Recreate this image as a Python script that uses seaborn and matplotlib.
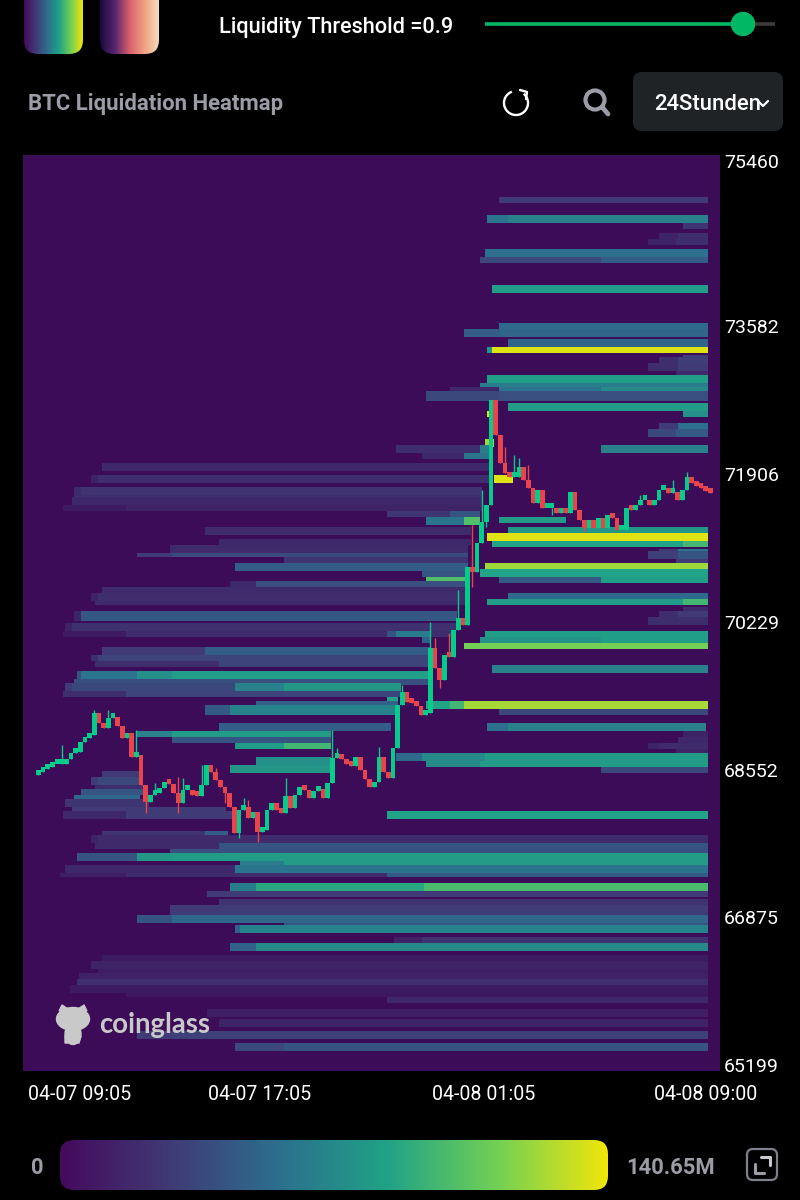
import numpy as np
import matplotlib
matplotlib.use("Agg")
import matplotlib.pyplot as plt
from matplotlib.colors import LinearSegmentedColormap
from matplotlib.patches import FancyBboxPatch, Circle, Ellipse, Arc, Polygon
from matplotlib.transforms import ScaledTranslation
import seaborn as sns

# ---------- axis data ----------
price_ticks = [75460, 73582, 71906, 70229, 68552, 66875, 65199]
time_tick_hours = [0, 8, 16, 23.92]
time_tick_labels = ["04-07 09:05", "04-07 17:05", "04-08 01:05", "04-08 09:00"]
scale_max = 140.65

# ---------- candle closes, one per 10 minutes ----------
closes = [68525, 68559, 68582, 68616, 68616, 68616, 68672, 68740, 68752, 68865, 68911, 68945,
          69194, 69081, 69024, 69138, 69149, 69047, 68911, 68967, 68695, 68718, 68377, 68184,
          68264, 68286, 68343, 68411, 68389, 68286, 68173, 68320, 68320, 68264, 68252, 68377,
          68604, 68525, 68434, 68355, 68286, 68128, 67832, 68094, 68128, 68003, 68071, 67844,
          67866, 68094, 68173, 68094, 68060, 68252, 68116, 68264, 68355, 68320, 68230, 68309,
          68332, 68230, 68400, 68684, 68718, 68672, 68616, 68593, 68695, 68548, 68445, 68355,
          68411, 68695, 68525, 68457, 68797, 69285, 69433, 69319, 69308, 69274, 69172, 69194,
          69932, 69705, 69569, 69853, 69830, 70137, 70273, 70194, 70852, 70795, 71124, 71363,
          71555, 72748, 72351, 72033, 71919, 71874, 71874, 71988, 71840, 71749, 71579, 71726,
          71522, 71522, 71522, 71465, 71522, 71465, 71704, 71499, 71386, 71295, 71386, 71295,
          71408, 71295, 71442, 71408, 71272, 71272, 71522, 71499, 71555, 71612, 71612, 71555,
          71612, 71726, 71726, 71692, 71704, 71612, 71726, 71874, 71805, 71771, 71749, 71714, 71692]
first_open = 68490
wick_high = {5: 68831, 12: 69228, 15: 69228, 20: 68752, 21: 69001, 25: 68400, 30: 68468, 31: 68457,
             35: 68604, 38: 68570, 44: 68230, 45: 68207, 53: 68457, 63: 69001, 64: 68797, 73: 68809,
             78: 69512, 84: 70227, 85: 70046, 88: 70102, 90: 70590, 93: 71328, 95: 71726, 100: 72214,
             102: 72123, 103: 72089, 105: 72009, 129: 71669, 136: 71839, 139: 71930}
wick_low = {23: 68059, 30: 68059, 40: 68173, 43: 67776, 47: 67730, 86: 69478, 93: 70625, 96: 71306,
            110: 71442, 117: 71249}

# ---------- liquidation bands: (price top, price bottom, start hour, end hour, share of scale) ----------
upper_right = [
    (75051, 74972, 16.5, 24, .2), (74858, 74767, 16.11, 24, .42), (74858, 74767, 16.86, 24, .47),
    (74767, 74699, 23.07, 24, .17), (74654, 74574, 22.29, 24, .1), (74654, 74574, 22.96, 24, .15),
    (74574, 74506, 21.89, 24, .1), (74574, 74506, 22.82, 24, .15), (74461, 74370, 16.04, 24, .4),
    (74370, 74302, 15.89, 24, .25), (74370, 74302, 20.21, 24, .33), (74052, 73961, 16.25, 24, .58),
    (73632, 73564, 16.5, 24, .38), (73564, 73473, 15.25, 24, .33), (73564, 73473, 16.5, 24, .36),
    (73439, 73360, 16.86, 24, .36), (73360, 73280, 16.11, 24, .55), (73360, 73280, 16.25, 24, .97),
    (73258, 73235, 23.07, 24, .2), (73235, 73167, 22.29, 24, .15), (73235, 73167, 22.96, 24, .22),
    (73167, 73076, 21.89, 24, .15), (73167, 73076, 22.96, 24, .2), (73076, 73008, 22.82, 24, .12),
    (73031, 72940, 16.11, 24, .58), (72940, 72872, 15.89, 24, .45), (72895, 72815, 14.75, 16.5, .12),
    (72895, 72815, 16.5, 24, .42), (72895, 72815, 20.21, 24, .5), (72838, 72747, 13.93, 16.5, .25),
    (72838, 72747, 16.5, 24, .28), (72702, 72611, 16.86, 24, .57), (72611, 72543, 23.07, 24, .52),
    (72633, 72543, 16.11, 16.32, .97), (72497, 72406, 22.25, 24, .2), (72497, 72406, 22.96, 24, .4),
    (72429, 72338, 21.89, 24, .25), (72429, 72338, 22.82, 24, .32), (72236, 72145, 20.21, 24, .47),
    (72304, 72214, 16.04, 16.32, .87), (71896, 71805, 16.39, 17, .97),
]
left_upper = [
    (72236, 72145, 12.82, 15.89, .15), (72236, 72145, 15.89, 16.29, .45),
    (72145, 72077, 13.79, 15.25, .12), (72145, 72077, 15.25, 16.29, .42),
    (72032, 71941, 2.36, 16.29, .12), (71896, 71805, 1.96, 16.29, .1), (71896, 71805, 2.21, 16.29, .15),
    (71771, 71680, 1.39, 15.93, .13), (71771, 71680, 1.61, 15.93, .17), (71680, 71612, 1.39, 15.93, .15),
    (71635, 71544, 1.25, 15.93, .12), (71544, 71487, .93, 15.93, .07), (71544, 71487, 3.21, 15.93, .1),
    (71476, 71408, 12.54, 14.75, .18), (71476, 71408, 14.75, 15.82, .3),
    (71408, 71328, 13.93, 15.25, .42), (71408, 71328, 15.25, 15.82, .72), (71430, 71340, 16.5, 18.96, .57),
    (71306, 71215, 6.07, 15.5, .13), (71169, 71101, 6.57, 15.5, .12), (71101, 71010, 4.82, 15.43, .13),
    (71010, 70954, 3.61, 15.43, .2), (71010, 70954, 4.89, 15.43, .26), (70954, 70874, 8.89, 15.43, .17),
    (70897, 70806, 7.14, 15.43, .33), (70806, 70738, 13.79, 15.43, .3), (70738, 70670, 13.93, 15.39, .72),
    (70693, 70613, 6.93, 15.32, .12), (70693, 70613, 7.89, 15.32, .28), (70625, 70545, 2.36, 15.32, .13),
    (70556, 70477, 1.96, 15.32, .1), (70556, 70477, 2.21, 15.32, .15), (70477, 70409, 2.14, 15.32, .13),
]
left_middle = [
    (70341, 70250, 1.39, 15.04, .1), (70341, 70250, 1.61, 15.04, .31), (70216, 70114, 1.04, 15.04, .1),
    (70216, 70114, 1.25, 15.04, .16), (70136, 70057, .93, 14.96, .07), (70136, 70057, 3.21, 14.96, .14),
    (70114, 70057, 12.54, 14.14, .3), (70114, 70057, 12.82, 14.14, .45), (70057, 69989, 13.79, 14.14, .35),
    (69944, 69853, 2.36, 14.07, .2), (69944, 69853, 6.07, 14.07, .33), (69853, 69785, 1.96, 14.07, .15),
    (69853, 69785, 2.21, 14.07, .24), (69785, 69717, 2.14, 14.07, .15), (69785, 69717, 6.57, 14.07, .24),
    (69671, 69580, 1.46, 14, .3), (69671, 69580, 1.61, 14, .42), (69671, 69580, 3.61, 14, .52),
    (69671, 69580, 4.86, 14, .58), (69580, 69512, 1.39, 14, .28), (69535, 69444, 1.04, 13, .2),
    (69535, 69444, 1.25, 13, .25), (69535, 69444, 7.14, 13, .47), (69535, 69444, 8.89, 13, .55),
    (69444, 69376, .93, 13, .15), (69444, 69376, 3.21, 13, .24), (69387, 69319, 12.54, 12.96, .6),
    (69342, 69251, 7.89, 12.93, .35), (69274, 69183, 6.07, 12.86, .32), (69274, 69183, 6.93, 12.86, .48),
    (69070, 68979, 6.57, 12.71, .33), (69001, 68922, 3.61, 10.5, .47), (69001, 68922, 4.86, 10.5, .57),
    (68922, 68865, 4.89, 10.5, .3), (68865, 68786, 7.14, 10.5, .57), (68865, 68786, 8.89, 10.5, .68),
    (68684, 68593, 7.89, 10.5, .52), (68604, 68513, 6.93, 10.5, .55), (68536, 68468, 2.36, 3.71, .2),
    (68468, 68377, 1.96, 3.71, .2), (68468, 68377, 2.21, 3.71, .25), (68377, 68320, 2.14, 3.89, .15),
    (68343, 68264, 1.61, 3.89, .3), (68275, 68184, 1.39, 3.71, .37), (68207, 68128, 1.04, 4.07, .18),
    (68128, 68059, 1.25, 6.75, .2), (68071, 67991, .93, 7, .12), (68071, 67991, 3.21, 7, .2),
    (67866, 67776, 2.36, 6.86, .17), (67866, 67776, 6.07, 6.86, .33),
]
right_middle = [
    (68071, 67980, 12.54, 24, .6), (71306, 71215, 16.86, 24, .55), (71237, 71147, 16.11, 24, .97),
    (71147, 71079, 16.25, 24, .6), (71147, 71079, 23.07, 24, .68), (71067, 71010, 22.25, 24, .2),
    (71067, 71010, 22.96, 24, .42), (71022, 70942, 21.89, 24, .22), (71022, 70942, 22.96, 24, .3),
    (70942, 70874, 22.82, 24, .2), (70897, 70806, 16.04, 24, .87), (70829, 70738, 15.89, 24, .6),
    (70738, 70681, 16.5, 24, .32), (70738, 70681, 20.21, 24, .58), (70556, 70477, 16.86, 24, .38),
    (70488, 70409, 16.11, 24, .57), (70488, 70409, 23.07, 24, .68), (70398, 70341, 23.07, 24, .13),
    (70341, 70250, 22.25, 24, .15), (70341, 70250, 22.96, 24, .2), (70273, 70193, 21.89, 24, .15),
    (70136, 70057, 16.04, 24, .58), (70068, 69989, 15.89, 24, .54), (70068, 69989, 20.21, 24, .58),
    (70000, 69921, 15.25, 24, .8), (69739, 69648, 16.25, 24, .47), (69342, 69251, 13.96, 24, .6),
    (69342, 69251, 14.75, 24, .68), (69342, 69251, 15.25, 24, .88), (69251, 69183, 16.5, 24, .25),
    (69070, 68979, 16.11, 23.93, .4), (69070, 68979, 16.86, 23.93, .47), (69001, 68922, 23.07, 24, .1),
    (68922, 68865, 22.96, 24, .12), (68865, 68786, 21.89, 24, .1), (68865, 68786, 22.25, 24, .13),
    (68786, 68740, 22.82, 24, .1), (68740, 68650, 12.82, 24, .38), (68740, 68650, 13.79, 24, .5),
    (68740, 68650, 16.04, 24, .57), (68650, 68582, 13.93, 24, .5), (68650, 68582, 15.89, 24, .57),
    (68582, 68513, 20.21, 24, .25),
]
lower_full = [
    (67810, 67719, 1.96, 24, .1), (67810, 67719, 2.21, 24, .13), (67719, 67651, 2.14, 24, .13),
    (67719, 67651, 6.57, 24, .3), (67651, 67583, 4.82, 24, .28), (67605, 67515, 1.43, 24, .3),
    (67605, 67515, 3.61, 24, .55), (67605, 67515, 4.86, 24, .57), (67515, 67447, 7.29, 24, .45),
    (67515, 67447, 8.89, 24, .57), (67469, 67378, 1.04, 24, .12), (67469, 67378, 7.14, 24, .42),
    (67378, 67322, .89, 24, .08), (67378, 67322, 3.21, 24, .13), (67378, 67322, 12.5, 24, .32),
    (67265, 67185, 6.93, 24, .45), (67265, 67185, 7.89, 24, .62), (67265, 67185, 13.89, 24, .7),
    (67185, 67117, 6.11, 24, .2), (67072, 67004, 6.57, 24, .17), (67004, 66913, 4.82, 24, .2),
    (66913, 66822, 3.61, 24, .3), (66913, 66822, 4.89, 24, .37), (66822, 66766, 8.89, 24, .3),
    (66777, 66697, 7.14, 24, .35), (66777, 66697, 7.29, 24, .48), (66652, 66561, 12.79, 24, .1),
    (66652, 66561, 13.79, 24, .17), (66584, 66493, 6.93, 24, .35), (66584, 66493, 7.89, 24, .5),
    (66448, 66380, 2.39, 24, .07), (66380, 66300, 1.96, 24, .1), (66300, 66243, 2.21, 24, .08),
    (66243, 66164, 1.57, 24, .09), (66164, 66096, 1.43, 24, .15), (66096, 66016, 1.21, 24, .07),
    (66016, 65971, 3.21, 24, .05), (65960, 65892, 12.5, 24, .12), (65846, 65755, 6.11, 24, .08),
    (65710, 65631, 6.57, 24, .1), (65574, 65494, 3.61, 24, .2), (65574, 65494, 4.89, 24, .23),
    (65449, 65358, 7.14, 24, .26), (65449, 65358, 8.89, 24, .3),
]

# ---------- styles ----------
BLACK = "#000000"
GREY = "#9b9ca6"
FONT = "Roboto"
heat_cmap = LinearSegmentedColormap.from_list(
    "heat", ["#3c0c58", "#403a76", "#2c6f8e", "#20a386", "#73d055", "#f0e60a"])
legend_cmap = LinearSegmentedColormap.from_list(
    "legend", ["#450a5c", "#403a76", "#2c6f8e", "#20a386", "#73d055", "#f0e60a"])
fire_cmap = LinearSegmentedColormap.from_list(
    "fire", ["#1c0a3c", "#54246e", "#d8606a", "#f0a080", "#f6dcbc"])
UP, DOWN = "#06cc8a", "#e8444c"

sns.set_theme(style="white")
plt.rcParams["font.family"] = [FONT, "DejaVu Sans"]

W, H = 800, 1200
fig = plt.figure(figsize=(8, 12), dpi=100, facecolor=BLACK)
rect = [23 / W, (H - 1071) / H, 697 / W, 916 / H]

# ---------- heatmap grid ----------
price_top, price_bottom = 75528, 65131
hour_left, hour_right = -0.464, 24.43
row_edges = np.linspace(price_top, price_bottom, 459)
col_edges = np.linspace(hour_left, hour_right, 300)
row_mid = (row_edges[:-1] + row_edges[1:]) / 2
col_mid = (col_edges[:-1] + col_edges[1:]) / 2
grid = np.zeros((row_mid.size, col_mid.size))
for group in (upper_right, left_upper, left_middle, right_middle, lower_full):
    for top, bottom, start, end, share in group:
        rows = (row_mid <= top) & (row_mid > bottom)
        cols = (col_mid >= start) & (col_mid < end)
        grid[np.ix_(rows, cols)] = share * scale_max

ax = fig.add_axes(rect)
sns.heatmap(grid, ax=ax, cmap=heat_cmap, vmin=0, vmax=scale_max, cbar=False,
            xticklabels=False, yticklabels=False, linewidths=0)
ax.set_xlabel("")
ax.set_ylabel("")

# ---------- candles on real price / time axes ----------
over = fig.add_axes(rect, facecolor="none")
over.set_xlim(hour_left, hour_right)
over.set_ylim(price_bottom, price_top)
c = np.array(closes, dtype=float)
o = np.r_[first_open, c[:-1]]
t = 1 / 12 + np.arange(c.size) / 6
hi = np.maximum(o, c)
lo = np.minimum(o, c)
for k, v in wick_high.items():
    hi[k] = max(hi[k], v)
for k, v in wick_low.items():
    lo[k] = min(lo[k], v)
colors = np.where(c >= o, UP, DOWN)
over.vlines(t, lo, hi, colors=colors, linewidth=1.0, zorder=3)
heights = np.maximum(np.abs(c - o), 55)
over.bar(t, heights, bottom=np.minimum(o, c), width=0.17, color=colors, linewidth=0, zorder=4)

over.yaxis.tick_right()
over.set_yticks(price_ticks)
over.set_yticklabels([str(p) for p in price_ticks], fontsize=14, color="white", family=FONT)
over.set_xticks(time_tick_hours)
over.set_xticklabels(time_tick_labels, fontsize=14.1, color="white", family=FONT)
over.tick_params(axis="both", length=0)
over.tick_params(axis="y", pad=3)
over.tick_params(axis="x", pad=10)
for s in over.spines.values():
    s.set_visible(False)
first = over.get_xticklabels()[0]
first.set_ha("left")
first.set_transform(first.get_transform() + ScaledTranslation(-8 / 100, 0, fig.dpi_scale_trans))

# ---------- page furniture in pixel coordinates ----------
ui = fig.add_axes([0, 0, 1, 1], facecolor="none")
ui.set_xlim(0, W)
ui.set_ylim(H, 0)
ui.axis("off")


def gradient(x0, x1, y0, y1, cmap, radius):
    im = ui.imshow(np.linspace(0, 1, 256)[None, :], extent=[x0, x1, y1, y0], cmap=cmap,
                   aspect="auto", zorder=2)
    clip = FancyBboxPatch((x0 + radius, y0 + radius), x1 - x0 - 2 * radius, y1 - y0 - 2 * radius,
                          boxstyle=f"round,pad={radius},rounding_size={radius}",
                          transform=ui.transData, facecolor="none", edgecolor="none")
    ui.add_patch(clip)
    im.set_clip_path(clip)


gradient(24, 83, -25, 54, legend_cmap, 14)
gradient(100, 159, -25, 54, fire_cmap, 14)
gradient(60, 608, 1140, 1190, legend_cmap, 14)
ui.set_xlim(0, W)
ui.set_ylim(H, 0)

ui.text(336, 27, "Liquidity Threshold =0.9", color="white", fontsize=15.7, fontweight="medium",
        ha="center", va="center", family=FONT)
ui.plot([485, 743], [24, 24], color="#00b864", lw=2.6, solid_capstyle="butt", zorder=3)
ui.plot([743, 775], [24, 24], color="#3a3a3a", lw=2.6, solid_capstyle="butt", zorder=2)
ui.add_patch(Circle((743, 24), 11.5, color="#00b864", zorder=4))

ui.text(28, 104, "BTC Liquidation Heatmap", color=GREY, fontsize=15.9, fontweight="bold",
        ha="left", va="center", family=FONT)

# refresh icon
ui.add_patch(Arc((516, 103), 24, 24, theta1=-50, theta2=250, color="white", lw=1.7, zorder=4))
ui.plot([520, 527, 526], [90, 92, 99], color="white", lw=1.7, zorder=4)
# search icon
ui.add_patch(Circle((595, 100), 9.5, facecolor="none", edgecolor=GREY, lw=3, zorder=4))
ui.plot([602, 608], [107, 114], color=GREY, lw=3.4, zorder=4, solid_capstyle="round")
# range selector
ui.add_patch(FancyBboxPatch((641, 80), 134, 43, boxstyle="round,pad=8,rounding_size=9",
                            facecolor="#1f2326", edgecolor="none", zorder=2))
ui.text(654, 104, "24Stunden", color="white", fontsize=15.9, fontweight="medium",
        ha="left", va="center", family=FONT, zorder=3)
ui.plot([758, 763, 768], [101, 106, 101], color="white", lw=1.6, zorder=4)

# colour scale
ui.text(37, 1168, "0", color=GREY, fontsize=15.8, fontweight="bold", ha="center", va="center", family=FONT)
ui.text(670.5, 1168, "140.65M", color=GREY, fontsize=15.8, fontweight="bold", ha="center", va="center", family=FONT)
ui.add_patch(FancyBboxPatch((752, 1154), 20, 21, boxstyle="round,pad=5,rounding_size=6",
                            facecolor="none", edgecolor="#7f808a", lw=1.6, zorder=3))
ui.plot([761, 770, 770], [1157, 1157, 1165], color="#c8c8d0", lw=2.2, zorder=4)
ui.plot([755, 755, 764], [1164, 1173, 1173], color="#9b9ca6", lw=2.2, zorder=4)

# watermark
wm = "#c9c9c9"
ui.add_patch(Ellipse((73, 1019), 33, 23, color=wm, zorder=5))
ui.add_patch(Polygon([[59, 1011], [62, 1005], [68, 1009]], color=wm, zorder=5))
ui.add_patch(Polygon([[87, 1011], [84, 1005], [78, 1009]], color=wm, zorder=5))
ui.add_patch(Ellipse((73, 1034), 16, 21, color=wm, zorder=5))
ui.add_patch(Polygon([[65, 1036], [81, 1036], [79, 1043], [75, 1043], [73, 1040], [71, 1043], [65, 1043]],
                     color=wm, zorder=5))
ui.text(99, 1025, "coinglass", color=wm, fontsize=19.8, fontweight="bold", ha="left", va="center",
        family="Lato", zorder=5)

fig.savefig("out.png", dpi=100, facecolor=BLACK)
